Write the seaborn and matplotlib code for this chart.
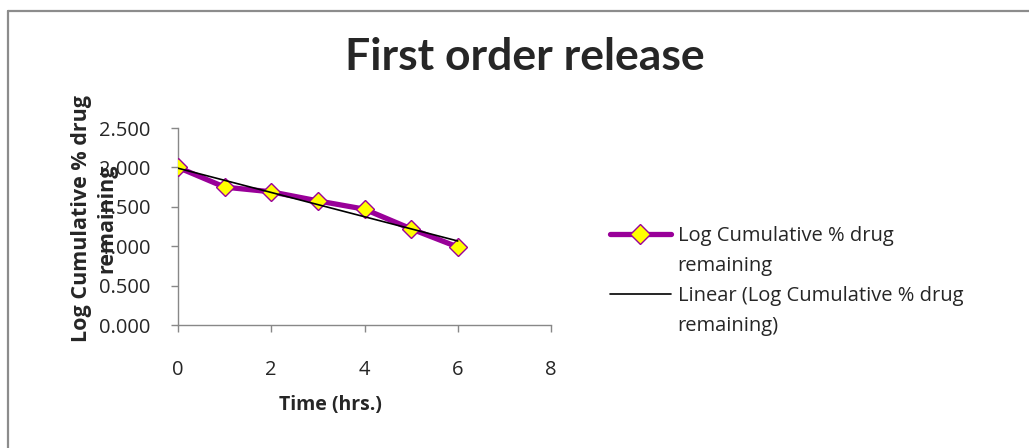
import numpy as np
import pandas as pd
import matplotlib
matplotlib.use("Agg")
import matplotlib.pyplot as plt
import seaborn as sns
from matplotlib.lines import Line2D

time_hrs = [0, 1, 2, 3, 4, 5, 6]
log_remaining = [2.00, 1.75, 1.69, 1.575, 1.47, 1.22, 0.99]
series_label = ["Log Cumulative % drug", "remaining"]
trend_label = ["Linear (Log Cumulative % drug", "remaining)"]
x_ticks = [0, 2, 4, 6, 8]
y_ticks = [0.0, 0.5, 1.0, 1.5, 2.0, 2.5]

sns.set_style("white")
plt.rcParams["font.family"] = ["Open Sans", "DejaVu Sans"]

fig = plt.figure(figsize=(10.29, 4.48), dpi=100)
ax = fig.add_axes([178/1029, 1 - 325/448, (551-178)/1029, (325-128)/448])

df = pd.DataFrame({"t": time_hrs, "v": log_remaining})
slope, intercept = np.polyfit(df["t"], df["v"], 1)
df["fit"] = intercept + slope * df["t"]

sns.lineplot(data=df, x="t", y="v", ax=ax, color="#990099", linewidth=3.8,
             marker="D", markersize=9, markerfacecolor="#FFFF00",
             markeredgecolor="#990099", markeredgewidth=1, zorder=3)
sns.lineplot(data=df, x="t", y="fit", ax=ax, color="black", linewidth=1.2, zorder=4)

ax.set_xlim(0, 8)
ax.set_ylim(0, 2.5)
ax.set_xticks(x_ticks)
ax.set_yticks(y_ticks)
ax.set_yticklabels([f"{v:.3f}" for v in y_ticks])
ax.tick_params(axis="both", which="major", bottom=True, left=True, direction="out",
               length=5, width=1, color="#888888", labelsize=14.5)
ax.tick_params(axis="y", pad=15)
ax.tick_params(axis="x", pad=20)
for s in ["top", "right"]:
    ax.spines[s].set_visible(False)
for s in ["left", "bottom"]:
    ax.spines[s].set_color("#888888")
    ax.spines[s].set_linewidth(1)
ax.set_xlabel("")
ax.set_ylabel("")

fig.text(525/1029, 1 - 57/448, "First order release", ha="center", va="center",
         fontsize=32, fontweight="bold", family=["Lato", "DejaVu Sans"])
fig.text(330/1029, 1 - 405/448, "Time (hrs.)", ha="center", va="center",
         fontsize=14, fontweight="bold")
fig.text(94/1029, 1 - 218/448, "Log Cumulative % drug\nremaining", ha="center",
         va="center", rotation=90, fontsize=15.5, fontweight="bold", linespacing=1.25)

h_series = Line2D([], [], color="#990099", linewidth=3.8, marker="D", markersize=10,
                  markerfacecolor="#FFFF00", markeredgecolor="#990099", markeredgewidth=1)
h_trend = Line2D([], [], color="black", linewidth=1.2)
h_blank = Line2D([], [], color="none")
leg = ax.legend([h_series, h_blank, h_trend, h_blank],
                [series_label[0], series_label[1], trend_label[0], trend_label[1]],
                loc="upper left", bbox_to_anchor=(592/1029, 1 - 208/448),
                bbox_transform=fig.transFigure, frameon=False, fontsize=14.5,
                handlelength=3.0, labelspacing=0.5, handletextpad=0.35)

# chart-area border (left and top edges visible, as in the reference)
fig.add_artist(Line2D([8/1029, 8/1029], [0, 1 - 11/448], transform=fig.transFigure,
                      color="#8c8c8c", linewidth=1.6))
fig.add_artist(Line2D([8/1029, 1], [1 - 11/448, 1 - 11/448], transform=fig.transFigure,
                      color="#8c8c8c", linewidth=1.6))

fig.savefig("out.png", dpi=100)
